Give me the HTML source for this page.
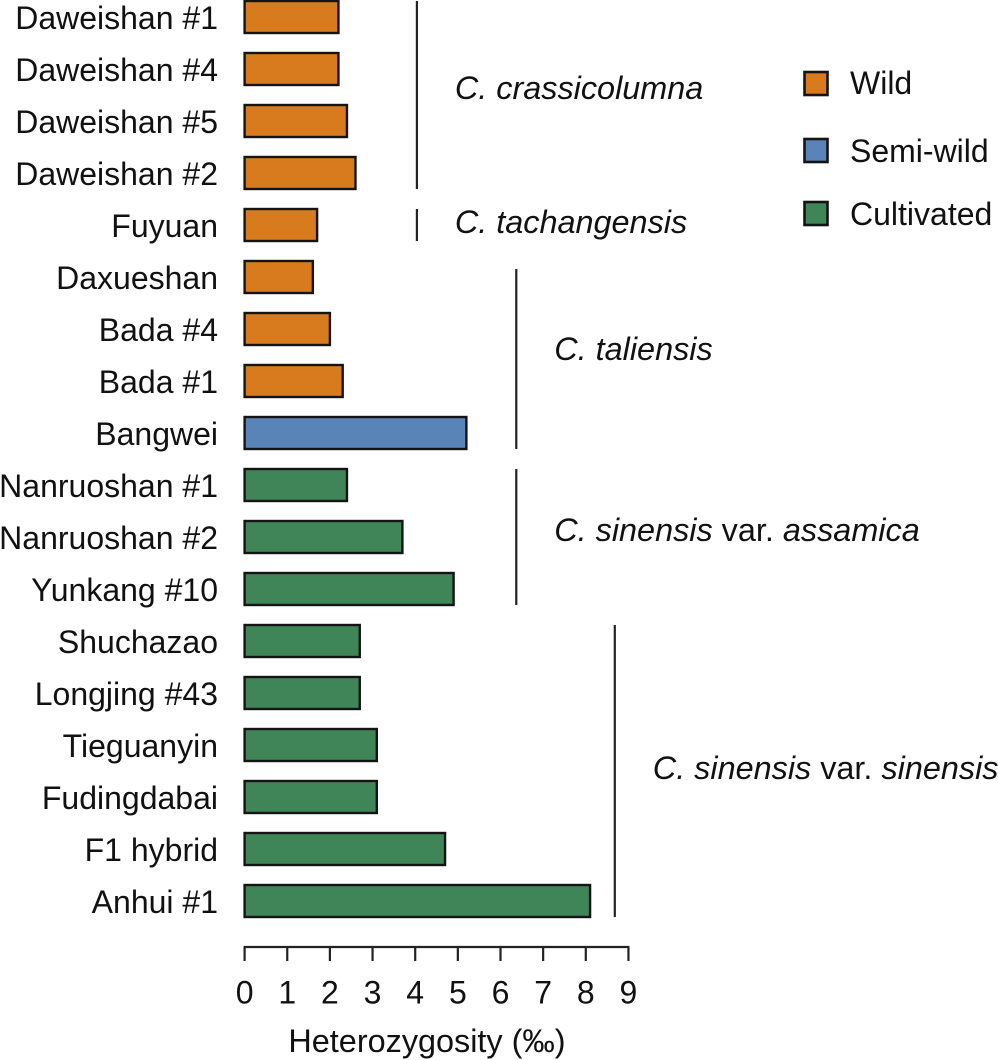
<!DOCTYPE html>
<html lang="en">
<head>
<meta charset="utf-8">
<title>Heterozygosity chart</title>
<style>
html,body{margin:0;padding:0;background:#fff;}
svg{display:block;}
text{font-family:"Liberation Sans",sans-serif;font-size:32px;fill:#111;}
</style>
</head>
<body>
<svg id="chart" xmlns="http://www.w3.org/2000/svg" width="998" height="1060" viewBox="0 0 998 1060"></svg>
<script>
const categories = ["Daweishan #1","Daweishan #4","Daweishan #5","Daweishan #2","Fuyuan","Daxueshan","Bada #4","Bada #1","Bangwei","Nanruoshan #1","Nanruoshan #2","Yunkang #10","Shuchazao","Longjing #43","Tieguanyin","Fudingdabai","F1 hybrid","Anhui #1"];
const values = [2.2,2.2,2.4,2.6,1.7,1.6,2.0,2.3,5.2,2.4,3.7,4.9,2.7,2.7,3.1,3.1,4.7,8.1];
const groups = ["Wild","Wild","Wild","Wild","Wild","Wild","Wild","Wild","Semi-wild","Cultivated","Cultivated","Cultivated","Cultivated","Cultivated","Cultivated","Cultivated","Cultivated","Cultivated"];
const legendGroups = ["Wild","Semi-wild","Cultivated"];
const groupColors = {"Wild":"#d87b1f","Semi-wild":"#5a83b8","Cultivated":"#3f8558"};
const xTicks = [0,1,2,3,4,5,6,7,8,9];
const speciesFirst = [0,4,5,9,12];
const speciesLast = [3,4,8,11,17];
const speciesAt = [4.04,4.04,6.37,6.37,8.68];
const speciesParts = [
  [["C. crassicolumna",true]],
  [["C. tachangensis",true]],
  [["C. taliensis",true]],
  [["C. sinensis",true],[" var. ",false],["assamica",true]],
  [["C. sinensis",true],[" var. ",false],["sinensis",true]]
];

const NS = "http://www.w3.org/2000/svg";
const svg = document.getElementById("chart");
const x = v => 244.6 + v * 42.65;
const rowTop = i => 1 + i * 52;
const BAR_H = 32;
const bracketInset = [0,0,8,0,0];
const labelShift = [-6,-2,-5,-6,-2];

function make(tag, attrs, parent) {
  const el = document.createElementNS(NS, tag);
  for (const k in attrs) el.setAttribute(k, attrs[k]);
  (parent || svg).appendChild(el);
  return el;
}

categories.forEach((name, i) => {
  const label = make("text", {x: 218, y: rowTop(i) + 28.2, "text-anchor": "end"});
  
  
  label.textContent = name;

  const bar = make("rect", {
    x: x(0), y: rowTop(i), width: x(values[i]) - x(0), height: BAR_H,
    fill: groupColors[groups[i]], stroke: "#141414", "stroke-width": 2.4
  });
  
  
});

speciesParts.forEach((parts, s) => {
  const top = rowTop(speciesFirst[s]);
  const bottom = rowTop(speciesLast[s]) + BAR_H;
  const line = make("line", {
    x1: x(speciesAt[s]), x2: x(speciesAt[s]), y1: top + bracketInset[s], y2: bottom,
    stroke: "#222", "stroke-width": 2.2
  });
  
  

  const t = make("text", {x: x(speciesAt[s]) + 38, y: (top + bottom) / 2 + 10 + labelShift[s], style: "font-size:32.4px"});
  
  
  parts.forEach(p => {
    const span = make("tspan", {"font-style": p[1] ? "italic" : "normal"}, t);
    span.style.whiteSpace = "pre";
    span.textContent = p[0];
  });
});

const axisLine = make("line", {
  x1: x(xTicks[0]) - 1, x2: x(xTicks[xTicks.length - 1]) + 1, y1: 947, y2: 947,
  stroke: "#222", "stroke-width": 2.2
});



xTicks.forEach(v => {
  const tick = make("line", {x1: x(v), x2: x(v), y1: 947, y2: 961, stroke: "#222", "stroke-width": 2.2});
  
  
  const lab = make("text", {x: x(v), y: 1003.5, "text-anchor": "middle"});
  
  
  lab.textContent = v;
});

const title = make("text", {x: 427, y: 1052, "text-anchor": "middle", style: "font-size:32.4px"});


title.textContent = "Heterozygosity (\u2030)";

const legendBoxY = [72, 139, 202];
const legendTextY = [94, 162, 225];
legendGroups.forEach((g, i) => {
  const box = make("rect", {
    x: 804.5, y: legendBoxY[i], width: 23, height: 23,
    fill: groupColors[g], stroke: "#141414", "stroke-width": 2.6
  });
  
  
  const lab = make("text", {x: 850, y: legendTextY[i]});
  
  
  lab.textContent = g;
});
</script>
</body>
</html>
